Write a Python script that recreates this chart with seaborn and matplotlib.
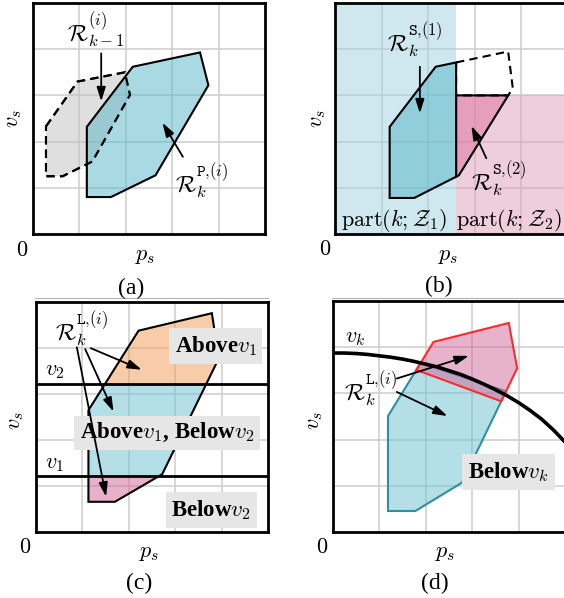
import matplotlib
matplotlib.use("Agg")
import matplotlib.pyplot as plt
import seaborn as sns
from matplotlib.lines import Line2D

# ---- panel (a): previous and propagated reachable sets ----
REACH_X = [1.16, 2.15, 3.60, 3.78, 2.64, 1.68, 1.16]
REACH_Y = [2.32, 3.62, 3.93, 3.22, 1.27, 0.80, 0.80]
PREV_X = [0.28, 0.96, 1.98, 2.09, 1.28, 0.64, 0.28]
PREV_Y = [2.33, 3.30, 3.50, 3.01, 1.57, 1.25, 1.25]

# ---- panel (b): split by zone partition ----
SPLIT_X = [1.17, 2.16, 3.72, 3.82, 2.66, 1.70, 1.17]
SPLIT_Y = [2.32, 3.62, 3.95, 3.16, 1.27, 0.78, 0.78]
ZONE_P = 2.6     # boundary between Z1 and Z2 along p_s
ZONE_V = 3.0     # upper speed bound of Z2

# ---- panel (c): split by speed limits ----
LEVEL_X = [1.13, 2.21, 3.79, 3.94, 2.72, 1.70, 1.13]
LEVEL_Y = [2.64, 4.37, 4.75, 3.77, 1.25, 0.65, 0.65]
V1 = 1.21
V2 = 3.21

# ---- panel (d): split by a curved speed limit ----
CURVE_X = [0.0, 0.25, 0.5, 0.75, 1.0, 1.25, 1.5, 1.75, 2.0, 2.25, 2.5,
           2.75, 3.0, 3.25, 3.5, 3.75, 4.0, 4.25, 4.5, 4.75, 5.0]
CURVE_Y = [3.87, 3.87, 3.86, 3.84, 3.81, 3.78, 3.74, 3.69, 3.63, 3.57, 3.49,
           3.41, 3.31, 3.20, 3.08, 2.95, 2.80, 2.63, 2.44, 2.21, 1.95]
BAND_X = [1.19, 2.17, 3.79, 3.97, 2.78, 1.78, 1.19]
BAND_Y = [2.51, 4.11, 4.52, 3.54, 1.07, 0.46, 0.46]
UPPER_CUT_X = [1.88, 3.71]
UPPER_CUT_Y = [3.66, 3.05]
LOWER_CUT_X = [1.84, 3.65]
LOWER_CUT_Y = [3.49, 2.82]

W, H = 564, 598

sns.set_theme(style="whitegrid")
plt.rcParams.update({
    "font.family": ["Liberation Serif", "DejaVu Serif"],
    "mathtext.fontset": "cm",
    "text.color": "black",
    "grid.color": "#cdcdcd",
    "grid.linewidth": 1.1,
})

BLUE = "#55b5c9"
GRAY = "#c1c1c1"
ORANGE = "#f59b55"
PINK = "#d1659a"
EDGE_LW = 1.5


def clip(poly, side):
    """Sutherland-Hodgman clip of a polygon against side(p) >= 0."""
    out = []
    n = len(poly)
    for i in range(n):
        p, q = poly[i], poly[(i + 1) % n]
        fp, fq = side(p), side(q)
        if fp >= 0:
            out.append(p)
        if (fp >= 0) != (fq >= 0):
            t = fp / (fp - fq)
            out.append((p[0] + t * (q[0] - p[0]), p[1] + t * (q[1] - p[1])))
    return out


def below_line(xs, ys):
    k = (ys[1] - ys[0]) / (xs[1] - xs[0])
    return lambda p: ys[0] + k * (p[0] - xs[0]) - p[1]


def above_line(xs, ys):
    f = below_line(xs, ys)
    return lambda p: -f(p)


def fill(ax, poly, fc, alpha=0.5, ec="black", lw=EDGE_LW, ls="-", z=3):
    xs = [p[0] for p in poly]
    ys = [p[1] for p in poly]
    if fc is not None:
        ax.fill(xs, ys, facecolor=fc, alpha=alpha, edgecolor="none", zorder=z)
    if ec is not None:
        ax.fill(xs, ys, facecolor="none", edgecolor=ec, lw=lw, ls=ls,
                zorder=z + 0.5, joinstyle="miter")


def make_axes(fig, left, top, width, height):
    ax = fig.add_axes([left / W, 1 - (top + height) / H, width / W, height / H])
    ax.set_xlim(0, 5)
    ax.set_ylim(0, 5)
    ax.set_xticks([1, 2, 3, 4])
    ax.set_yticks([1, 2, 3, 4])
    ax.set_xticklabels([])
    ax.set_yticklabels([])
    ax.tick_params(length=0)
    ax.set_axisbelow(True)
    ax.set_facecolor("white")
    for s in ax.spines.values():
        s.set_color("black")
        s.set_linewidth(2.0)
        s.set_zorder(10)
    return ax


def ftext(fig, x, y, s, **kw):
    fig.text(x / W, 1 - y / H, s, ha="center", va="center", color="black", **kw)


def arrow(ax, start, end):
    ax.annotate("", xy=end, xytext=start,
                arrowprops=dict(arrowstyle="-|>,head_length=0.7,head_width=0.22",
                                color="black", lw=1.3, shrinkA=0, shrinkB=0),
                zorder=12)


LAB = 16
RLAB = 17
CAP = 17
BOX = 16.5

fig = plt.figure(figsize=(W / 100, H / 100), dpi=100)

# ---------------- (a) ----------------
ax = make_axes(fig, 33, 3, 232, 231)
prev = list(zip(PREV_X, PREV_Y))
reach = list(zip(REACH_X, REACH_Y))
fill(ax, prev, GRAY, ec="black", ls=(0, (4, 2.5)), z=2)
fill(ax, reach, BLUE, z=3)
fill(ax, prev, None, ec="black", ls=(0, (4, 2.5)), z=4)
ax.text(1.34, 4.42, r"$\mathcal{R}_{k-1}^{(i)}$", fontsize=RLAB, ha="center", va="center", zorder=12)
arrow(ax, (1.47, 3.91), (1.47, 2.87))
ax.text(3.64, 1.15, r"$\mathcal{R}_{k}^{\mathtt{P}{,}(i)}$", fontsize=RLAB, ha="center", va="center", zorder=12)
arrow(ax, (3.23, 1.67), (2.79, 2.41))

# ---------------- (b) ----------------
ax = make_axes(fig, 335.3, 3, 232.3, 231)
ax.fill_between([0, ZONE_P], 0, 5, color="#a1d3e1", alpha=0.5, lw=0, zorder=1.5)
ax.fill_between([ZONE_P, 5], 0, ZONE_V, color="#e19fbb", alpha=0.5, lw=0, zorder=1.5)
split = list(zip(SPLIT_X, SPLIT_Y))
part1 = clip(split, lambda p: ZONE_P - p[0])
right = clip(split, lambda p: p[0] - ZONE_P)
part2 = clip(right, lambda p: ZONE_V - p[1])
outside = clip(right, lambda p: p[1] - ZONE_V)
fill(ax, part1, BLUE, z=3)
fill(ax, part2, "#dc719f", z=3)
fill(ax, outside, None, ec="black", ls=(0, (4, 2.5)), z=4)
ax.text(1.72, 4.20, r"$\mathcal{R}_{k}^{\mathtt{S}{,}(1)}$", fontsize=RLAB, ha="center", va="center", zorder=12)
arrow(ax, (1.82, 3.62), (1.82, 2.61))
ax.text(3.53, 1.21, r"$\mathcal{R}_{k}^{\mathtt{S}{,}(2)}$", fontsize=RLAB, ha="center", va="center", zorder=12)
arrow(ax, (3.25, 1.64), (2.93, 2.34))
ax.text(1.26, 0.30, r"$\mathrm{part}(k;\mathcal{Z}_1)$", fontsize=LAB, ha="center", va="center", zorder=12)
ax.text(3.74, 0.30, r"$\mathrm{part}(k;\mathcal{Z}_2)$", fontsize=LAB, ha="center", va="center", zorder=12)

# ---------------- (c) ----------------
ax = make_axes(fig, 36, 301.7, 232, 230)
level = list(zip(LEVEL_X, LEVEL_Y))
top = clip(level, lambda p: p[1] - V2)
mid = clip(clip(level, lambda p: V2 - p[1]), lambda p: p[1] - V1)
low = clip(level, lambda p: V1 - p[1])
fill(ax, top, ORANGE, ec=None, z=3)
fill(ax, mid, "#6dc1d1", ec=None, z=3)
fill(ax, low, PINK, ec=None, z=3)
fill(ax, level, None, z=4)
for v in (V1, V2):
    sns.lineplot(x=[0, 5], y=[v, v], ax=ax, color="black", lw=2.0, zorder=6)
ax.text(0.41, 3.48, r"$v_2$", fontsize=LAB, ha="center", va="center")
ax.text(0.41, 1.47, r"$v_1$", fontsize=LAB, ha="center", va="center")
box = dict(boxstyle="square,pad=0.25", fc="#e6e6e6", ec="none")
ax.text(3.87, 4.04, r"Above$v_1$", fontsize=BOX, fontweight="bold", ha="center", va="center", bbox=box, zorder=11)
ax.text(2.82, 2.15, r"Above$v_1$, Below$v_2$", fontsize=BOX, fontweight="bold", ha="center", va="center", bbox=box, zorder=11)
ax.text(3.78, 0.47, r"Below$v_2$", fontsize=BOX, fontweight="bold", ha="center", va="center", bbox=box, zorder=11)
ax.text(0.98, 4.42, r"$\mathcal{R}_{k}^{\mathtt{L}{,}(i)}$", fontsize=RLAB, ha="center", va="center", zorder=12)
arrow(ax, (1.18, 3.99), (2.28, 3.52))
arrow(ax, (1.06, 3.97), (1.67, 2.61))
arrow(ax, (0.88, 4.01), (1.51, 0.76))

# ---------------- (d) ----------------
ax = make_axes(fig, 332.7, 300.7, 232.3, 231.6)
band = list(zip(BAND_X, BAND_Y))
below = clip(band, below_line(UPPER_CUT_X, UPPER_CUT_Y))
above = clip(band, above_line(LOWER_CUT_X, LOWER_CUT_Y))
fill(ax, below, "#6dc1d1", ec="#2f8fa2", z=3)
fill(ax, above, "#d1669a", ec="#ff2a2a", z=4)
sns.lineplot(x=CURVE_X, y=CURVE_Y, ax=ax, color="black", lw=2.6, zorder=7)
ax.text(0.49, 4.19, r"$v_k$", fontsize=LAB, ha="center", va="center")
ax.text(0.81, 3.11, r"$\mathcal{R}_{k}^{\mathtt{L}{,}(i)}$", fontsize=RLAB, ha="center", va="center", zorder=12)
arrow(ax, (1.38, 3.32), (2.93, 3.81))
arrow(ax, (1.38, 3.03), (2.47, 2.51))
ax.text(3.78, 1.30, r"Below$v_k$", fontsize=BOX, fontweight="bold", ha="center", va="center", bbox=box, zorder=11)

# ---------------- shared labels ----------------
for (zx, zy), (px_, py_), (vx, vy), (cx, cy), cap in [
    ((22, 252), (145.7, 256.7), (15, 118.3), (131, 288), "(a)"),
    ((324.7, 250.7), (448.7, 256.7), (318.7, 118.3), (438.7, 286), "(b)"),
    ((25, 548.3), (149, 553.3), (16.7, 420), (139, 583), "(c)"),
    ((322, 548.3), (445.3, 553.3), (315.3, 420), (435.3, 583.3), "(d)"),
]:
    ftext(fig, zx, zy, r"$0$", fontsize=LAB)
    ftext(fig, px_, py_, r"$p_s$", fontsize=LAB)
    ftext(fig, vx, vy, r"$v_s$", fontsize=LAB, rotation=90)
    ftext(fig, cx, cy, cap, fontsize=CAP)

for x0, x1 in [(35, 268), (332, 564)]:
    fig.add_artist(Line2D([x0 / W, x1 / W], [1 - 298 / H, 1 - 298 / H],
                          color="#b4b4b4", lw=0.8))

fig.savefig("out.png", dpi=100)
